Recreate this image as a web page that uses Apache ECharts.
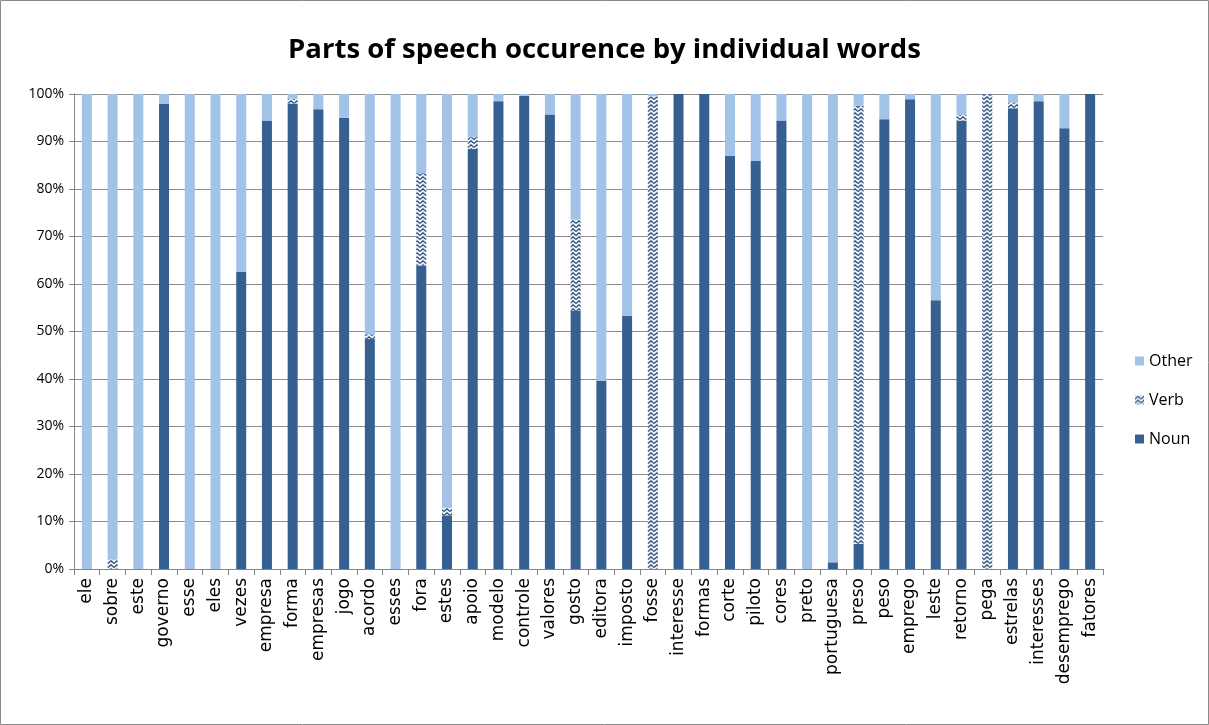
<!DOCTYPE html>
<html>
<head>
<meta charset="utf-8">
<script src="https://cdn.jsdelivr.net/npm/echarts@6/dist/echarts.min.js"></script>
<style>
  html, body { margin: 0; padding: 0; background: #fff; }
  #main { width: 1209px; height: 725px; }
</style>
</head>
<body>
<div id="main"></div>
<script>
var words = ['ele', 'sobre', 'este', 'governo', 'esse', 'eles', 'vezes', 'empresa', 'forma', 'empresas',
  'jogo', 'acordo', 'esses', 'fora', 'estes', 'apoio', 'modelo', 'controle', 'valores', 'gosto',
  'editora', 'imposto', 'fosse', 'interesse', 'formas', 'corte', 'piloto', 'cores', 'preto', 'portuguesa',
  'preso', 'peso', 'emprego', 'leste', 'retorno', 'pega', 'estrelas', 'interesses', 'desemprego', 'fatores'];

var noun = [0, 0, 0, 97.9, 0, 0, 62.6, 94.4, 98, 96.8,
  95, 48.4, 0, 63.9, 11.3, 88.4, 98.5, 99.6, 95.7, 54.3,
  39.6, 53.3, 0, 100, 100, 87, 85.9, 94.4, 0, 1.4,
  5.3, 94.7, 98.9, 56.6, 94.4, 0, 97, 98.5, 92.8, 100];

var verb = [0, 2, 0, 0, 0, 0, 0, 0, 1, 0,
  0, 1, 0, 19.4, 1.6, 2.5, 0, 0, 0, 19.3,
  0, 0, 99.5, 0, 0, 0, 0, 0, 0, 0,
  92.2, 0, 0, 0, 1.2, 100, 1.2, 0, 0, 0];

var other = [];
for (var i = 0; i < words.length; i++) {
  other.push(Math.max(0, +(100 - noun[i] - verb[i]).toFixed(1)));
}

var yTicks = [0, 10, 20, 30, 40, 50, 60, 70, 80, 90, 100];

// zigzag pattern used for the Verb series
var pat = document.createElement('canvas');
pat.width = 6;
pat.height = 4;
var ctx = pat.getContext('2d');
ctx.fillStyle = '#e8eef6';
ctx.fillRect(0, 0, 6, 4);
ctx.strokeStyle = '#2b4a75';
ctx.lineWidth = 1.1;
ctx.beginPath();
ctx.moveTo(0, 3.5);
ctx.lineTo(3, 0.8);
ctx.lineTo(6, 3.5);
ctx.stroke();

var myChart = echarts.init(document.getElementById('main'));

var option = {
  animation: false,
  textStyle: { fontFamily: 'Open Sans' },
  title: {
    text: 'Parts of speech occurence by individual words',
    left: 'center',
    top: 31,
    textStyle: { fontSize: 27.5, fontWeight: 'bold', color: '#000', fontFamily: 'Open Sans' }
  },
  legend: {
    orient: 'vertical',
    left: 1130,
    top: 348,
    itemGap: 23,
    icon: 'rect',
    itemWidth: 9,
    itemHeight: 9,
    data: ['Other', 'Verb', 'Noun'],
    textStyle: { fontSize: 16, color: '#000', fontFamily: 'Open Sans' }
  },
  grid: { left: 74, right: 106, top: 94, bottom: 156 },
  xAxis: {
    type: 'category',
    data: words,
    axisLine: { lineStyle: { color: '#868686' } },
    axisTick: { show: true, length: 6, lineStyle: { color: '#868686' } },
    axisLabel: {
      rotate: 90,
      interval: 0,
      margin: 9,
      fontSize: 17,
      color: '#000',
      fontFamily: 'DejaVu Sans'
    }
  },
  yAxis: {
    type: 'value',
    min: 0,
    max: 100,
    interval: 10,
    axisLine: { show: true, lineStyle: { color: '#868686' } },
    axisTick: { show: true, length: 5, lineStyle: { color: '#868686' } },
    splitLine: { lineStyle: { color: '#8c8c8c', width: 1 } },
    axisLabel: {
      formatter: function (v) { return yTicks.indexOf(v) >= 0 ? v + '%' : ''; },
      fontSize: 14,
      color: '#000',
      margin: 10
    }
  },
  graphic: [{
    type: 'rect',
    shape: { x: 0.5, y: 0.5, width: 1208, height: 724 },
    style: { fill: null, stroke: '#8a8a8a', lineWidth: 1 },
    silent: true
  }],
  series: [
    {
      name: 'Noun',
      type: 'bar',
      stack: 'pos',
      barWidth: 10,
      itemStyle: { color: '#376092' },
      data: noun
    },
    {
      name: 'Verb',
      type: 'bar',
      stack: 'pos',
      barWidth: 10,
      itemStyle: { color: { image: pat, repeat: 'repeat' } },
      data: verb
    },
    {
      name: 'Other',
      type: 'bar',
      stack: 'pos',
      barWidth: 10,
      itemStyle: { color: '#a3c2e7' },
      data: other
    }
  ]
};
myChart.setOption(option);
</script>
</body>
</html>
